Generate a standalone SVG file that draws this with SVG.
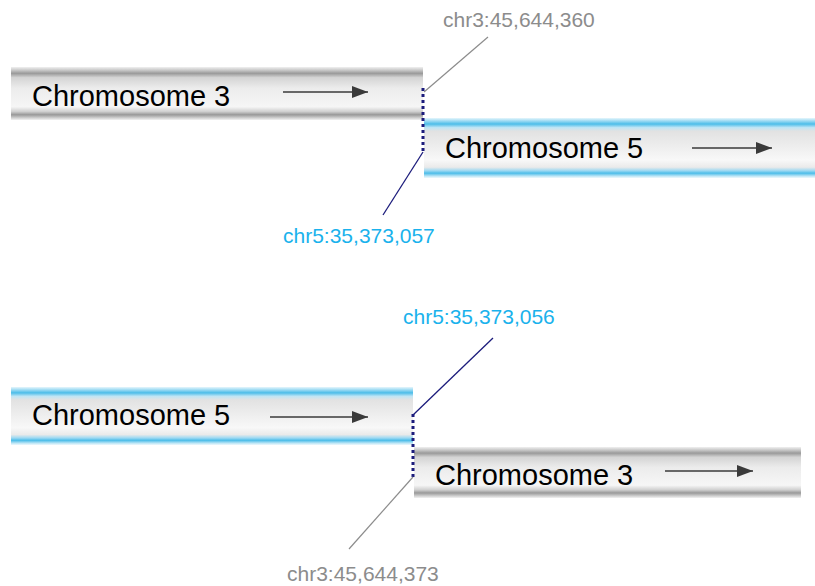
<svg xmlns="http://www.w3.org/2000/svg" width="815" height="586" viewBox="0 0 815 586">
<defs>
<linearGradient id="gGray" x1="0" y1="0" x2="0" y2="1">
<stop offset="0" stop-color="#f0f0f0"/>
<stop offset="0.06" stop-color="#c8c8c8"/>
<stop offset="0.12" stop-color="#9a9a9a"/>
<stop offset="0.2" stop-color="#d4d4d4"/>
<stop offset="0.4" stop-color="#ececec"/>
<stop offset="0.75" stop-color="#f6f6f6"/>
<stop offset="0.84" stop-color="#d0d0d0"/>
<stop offset="0.9" stop-color="#999999"/>
<stop offset="0.96" stop-color="#cfcfcf"/>
<stop offset="1" stop-color="#f2f2f2"/>
</linearGradient>
<linearGradient id="gBlue" x1="0" y1="0" x2="0" y2="1">
<stop offset="0" stop-color="#e6f6fc"/>
<stop offset="0.05" stop-color="#9bdaf3"/>
<stop offset="0.1" stop-color="#4cbde9"/>
<stop offset="0.16" stop-color="#bfe5f5"/>
<stop offset="0.22" stop-color="#e2e2e2"/>
<stop offset="0.7" stop-color="#f8f8f8"/>
<stop offset="0.82" stop-color="#eaeaea"/>
<stop offset="0.88" stop-color="#9bd8f2"/>
<stop offset="0.92" stop-color="#4cbde9"/>
<stop offset="0.97" stop-color="#bfe6f6"/>
<stop offset="1" stop-color="#eef9fd"/>
</linearGradient>
<marker id="ah" viewBox="0 0 16 12" refX="16" refY="6" markerWidth="16" markerHeight="12" markerUnits="userSpaceOnUse" orient="auto">
<path d="M0,0 L16,6 L0,12 Z" fill="#3a3a3a"/>
</marker>
</defs>
<style>
.name{font-family:"Liberation Sans",Arial,sans-serif;font-size:29px;fill:#000}
.arr{stroke:#3a3a3a;stroke-width:1.4;fill:none;marker-end:url(#ah)}
.lg{font-family:"Liberation Sans",Arial,sans-serif;font-size:21px;fill:#8c8c8c}
.lb{font-family:"Liberation Sans",Arial,sans-serif;font-size:21px;fill:#1ab2ec}
.dot{stroke:#1c1c7c;stroke-width:3;stroke-dasharray:3 3;fill:none}
.leadg{stroke:#8c8c8c;stroke-width:1.2;fill:none}
.leadb{stroke:#1c1c7c;stroke-width:1.3;fill:none}
</style>
<rect width="815" height="586" fill="#fff"/>

<g id="chr3-top">
<rect x="11" y="67" width="412" height="53" fill="url(#gGray)"/>
<text class="name" x="32" y="106">Chromosome 3</text>
<line class="arr" x1="283" y1="92" x2="368" y2="92"/>
</g>

<g id="chr5-top">
<rect x="424" y="118" width="391" height="60" fill="url(#gBlue)"/>
<text class="name" x="445" y="158">Chromosome 5</text>
<line class="arr" x1="692" y1="148" x2="772" y2="148"/>
</g>

<g id="chr5-bottom">
<rect x="11" y="387" width="402" height="58" fill="url(#gBlue)"/>
<text class="name" x="32" y="425">Chromosome 5</text>
<line class="arr" x1="270" y1="417" x2="368" y2="417"/>
</g>

<g id="chr3-bottom">
<rect x="414" y="447" width="387" height="51" fill="url(#gGray)"/>
<text class="name" x="435" y="485">Chromosome 3</text>
<line class="arr" x1="665" y1="471" x2="753" y2="471"/>
</g>

<g id="label-chr3-360">
<text class="lg" x="443" y="27">chr3:45,644,360</text>
</g>
<g id="label-chr5-057">
<text class="lb" x="283" y="243">chr5:35,373,057</text>
</g>
<g id="label-chr5-056">
<text class="lb" x="403" y="324">chr5:35,373,056</text>
</g>
<g id="label-chr3-373">
<text class="lg" x="287" y="581">chr3:45,644,373</text>
</g>

<g id="connectors">
<line class="dot" x1="423" y1="88" x2="423" y2="154"/>
<line class="leadg" x1="424" y1="92" x2="488" y2="37"/>
<line class="leadb" x1="423" y1="152" x2="383" y2="215"/>
<line class="dot" x1="413" y1="414" x2="413" y2="480"/>
<line class="leadb" x1="413" y1="415" x2="493" y2="338"/>
<line class="leadg" x1="413" y1="477" x2="349" y2="549"/>
</g>
</svg>
